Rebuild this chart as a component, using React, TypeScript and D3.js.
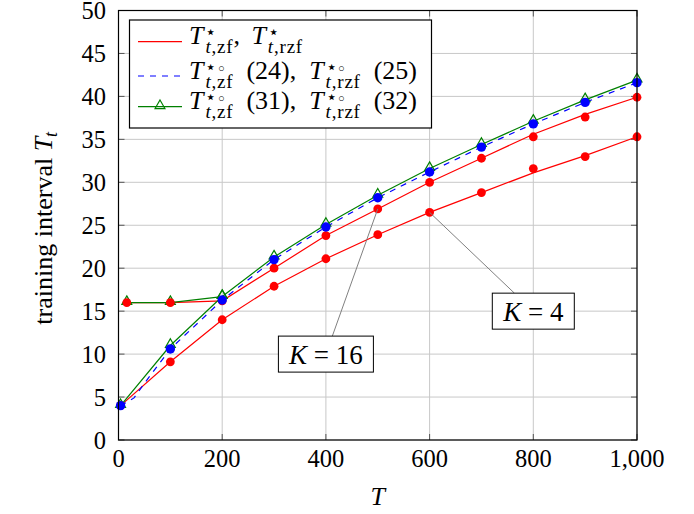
import React, { useEffect, useRef } from "react";
import * as d3 from "d3";

// simulated points
const tSim4 = [4, 100, 200, 300, 400, 500, 600, 700, 800, 900, 1000];
const tSim16 = [16, 100, 200, 300, 400, 500, 600, 700, 800, 900, 1000];
const redDots4 = [4, 9.1, 14.0, 17.9, 21.1, 23.9, 26.5, 28.8, 31.6, 33.0, 35.3];
const redDots16 = [16, 16, 16.2, 20.0, 23.8, 26.9, 30.0, 32.8, 35.3, 37.6, 39.9];
const blueDots = [4, 10.6, 16.3, 21.0, 24.8, 28.2, 31.2, 34.1, 36.8, 39.3, 41.6];

// curves
const redLine4 = [4, 9.1, 14.0, 17.9, 21.1, 23.9, 26.5, 28.8, 31.1, 33.1, 35.3];
const redLine16 = [16, 16, 16.2, 20.0, 23.8, 26.9, 30.0, 32.8, 35.6, 37.9, 39.9];
const tBlue = [4, 30, 50, 100, 200, 300, 400, 500, 600, 700, 800, 900, 1000];
const blueLine = [4, 4.9, 6.6, 10.6, 16.3, 21.0, 24.8, 28.2, 31.2, 34.1, 36.8, 39.3, 41.6];
const greenLine4 = [4, 11.0, 16.7, 21.3, 25.1, 28.5, 31.6, 34.4, 37.1, 39.6, 41.9];
const tGreen16 = [16, 100, 200];
const greenLine16 = [16, 16, 16.7];

const xTicks = [0, 200, 400, 600, 800, 1000];
const yTicks = [0, 5, 10, 15, 20, 25, 30, 35, 40, 45, 50];

const annotations = [
  { label: "16", at: [500, 26.9], box: [400, 10] },
  { label: "4", at: [600, 26.5], box: [800, 15] },
];

// legend labels, split into math pieces; gap = flexible space before piece
const legendRows = [
  [
    { s: "T", it: true }, { sup: "\u22c6", circ: false, sub: "t,zf" }, { s: "," },
    { s: "T", it: true, gap: true }, { sup: "\u22c6", circ: false, sub: "t,rzf" },
  ],
  [
    { s: "T", it: true }, { sup: "\u22c6", circ: true, sub: "t,zf" }, { s: "(24),", gap: true },
    { s: "T", it: true, gap: true }, { sup: "\u22c6", circ: true, sub: "t,rzf" }, { s: "(25)", gap: true },
  ],
  [
    { s: "T", it: true }, { sup: "\u22c6", circ: true, sub: "t,zf" }, { s: "(31),", gap: true },
    { s: "T", it: true, gap: true }, { sup: "\u22c6", circ: true, sub: "t,rzf" }, { s: "(32)", gap: true },
  ],
];
const legendEnds = [303, 417, 417];

const FONT = "Liberation Serif";
const RED = "#ff0000";
const BLUE = "#0000ff";
const GREEN = "#008000";

const W = 694;
const H = 514;
const margin = { top: 10.5, right: 57, bottom: 74, left: 118.5 };

const App = () => {
  const ref = useRef<SVGSVGElement>(null);

  useEffect(() => {
    document.body.style.margin = "0";
    const svg = d3.select(ref.current);
    svg.selectAll("*").remove();

    const x = d3.scaleLinear().domain([0, 1000]).range([margin.left, W - margin.right]);
    const y = d3.scaleLinear().domain([0, 50]).range([H - margin.bottom, margin.top]);
    const x0 = x(0), x1 = x(1000), y0 = y(0), y1 = y(50);

    // grid
    const grid = svg.append("g").attr("stroke", "#c8c8c8").attr("stroke-width", 1);
    xTicks.forEach((t) =>
      grid.append("line").attr("x1", x(t)).attr("x2", x(t)).attr("y1", y0).attr("y2", y1)
    );
    yTicks.forEach((t) =>
      grid.append("line").attr("x1", x0).attr("x2", x1).attr("y1", y(t)).attr("y2", y(t))
    );

    // tick marks inside, all four sides
    const tk = svg.append("g").attr("stroke", "#555").attr("stroke-width", 1);
    const tl = 6;
    xTicks.forEach((t) => {
      tk.append("line").attr("x1", x(t)).attr("x2", x(t)).attr("y1", y0).attr("y2", y0 - tl);
      tk.append("line").attr("x1", x(t)).attr("x2", x(t)).attr("y1", y1).attr("y2", y1 + tl);
    });
    yTicks.forEach((t) => {
      tk.append("line").attr("x1", x0).attr("x2", x0 + tl).attr("y1", y(t)).attr("y2", y(t));
      tk.append("line").attr("x1", x1).attr("x2", x1 - tl).attr("y1", y(t)).attr("y2", y(t));
    });

    // tick labels
    const fmt = d3.format(",");
    svg
      .append("g")
      .selectAll("text")
      .data(xTicks)
      .enter()
      .append("text")
      .attr("x", (d) => x(d))
      .attr("y", y0 + 27)
      .attr("text-anchor", "middle")
      .style("font-family", FONT)
      .attr("font-size", 24.5)
      .text((d) => fmt(d));
    svg
      .append("g")
      .selectAll("text")
      .data(yTicks)
      .enter()
      .append("text")
      .attr("x", x0 - 12.5)
      .attr("y", (d) => y(d) + 8.5)
      .attr("text-anchor", "end")
      .style("font-family", FONT)
      .attr("font-size", 24.5)
      .text((d) => d);

    // axis labels
    svg
      .append("text")
      .attr("x", (x0 + x1) / 2)
      .attr("y", H - 9)
      .attr("text-anchor", "middle")
      .style("font-family", FONT)
      .attr("font-size", 26)
      .attr("font-style", "italic")
      .text("T");
    const yl = svg
      .append("text")
      .attr("transform", `translate(52,${(y0 + y1) / 2 + 3}) rotate(-90)`)
      .attr("text-anchor", "middle")
      .style("font-family", FONT)
      .attr("font-size", 26);
    yl.append("tspan").text("training interval ");
    yl.append("tspan").attr("font-style", "italic").text("T");
    yl.append("tspan").attr("font-style", "italic").attr("font-size", 18).attr("dy", 5).text("t");

    const plot = svg.append("g");
    const line = d3
      .line<[number, number]>()
      .x((d) => x(d[0]))
      .y((d) => y(d[1]));
    const pts = (xs: number[], ys: number[]) => xs.map((v, i) => [v, ys[i]] as [number, number]);

    // red curves
    [pts(tSim4, redLine4), pts(tSim16, redLine16)].forEach((p) =>
      plot.append("path").attr("d", line(p)).attr("fill", "none").attr("stroke", RED).attr("stroke-width", 1.2)
    );
    // blue dashed
    plot
      .append("path")
      .attr("d", line(pts(tBlue, blueLine)))
      .attr("fill", "none")
      .attr("stroke", BLUE)
      .attr("stroke-width", 1.2)
      .attr("stroke-dasharray", "6,6");
    // green with triangles
    const tri = d3.symbol().type(d3.symbolTriangle).size(42);
    [pts(tSim4, greenLine4), pts(tGreen16, greenLine16)].forEach((p) => {
      plot.append("path").attr("d", line(p)).attr("fill", "none").attr("stroke", GREEN).attr("stroke-width", 1.2);
      p.forEach((d) =>
        plot
          .append("path")
          .attr("d", tri())
          .attr("transform", `translate(${x(d[0])},${y(d[1]) - 1})`)
          .attr("fill", "none")
          .attr("stroke", GREEN)
          .attr("stroke-width", 1.2)
      );
    });
    // dots
    [...pts(tSim4, redDots4), ...pts(tSim16, redDots16)].forEach((d) =>
      plot.append("circle").attr("cx", x(d[0])).attr("cy", y(d[1])).attr("r", 4.4).attr("fill", RED)
    );
    pts(tSim4, blueDots).forEach((d) =>
      plot.append("circle").attr("cx", x(d[0])).attr("cy", y(d[1])).attr("r", 4.7).attr("fill", BLUE)
    );

    // frame
    svg
      .append("rect")
      .attr("x", x0)
      .attr("y", y1)
      .attr("width", x1 - x0)
      .attr("height", y0 - y1)
      .attr("fill", "none")
      .attr("stroke", "#000")
      .attr("stroke-width", 1.2);

    // annotations
    annotations.forEach((a) => {
      const bw = a.label.length > 1 ? 95 : 82;
      const bh = 36;
      const cx = x(a.box[0]);
      const cy = y(a.box[1]);
      const px = x(a.at[0]);
      const py = y(a.at[1]);
      const top = cy - bh / 2;
      const tt = (top - py) / (cy - py);
      svg
        .append("line")
        .attr("x1", px)
        .attr("y1", py)
        .attr("x2", px + (cx - px) * tt)
        .attr("y2", top)
        .attr("stroke", "#808080")
        .attr("stroke-width", 1);
      svg
        .append("rect")
        .attr("x", cx - bw / 2)
        .attr("y", top)
        .attr("width", bw)
        .attr("height", bh)
        .attr("fill", "#fff")
        .attr("stroke", "#000")
        .attr("stroke-width", 1);
      const t = svg
        .append("text")
        .attr("x", cx)
        .attr("y", cy + 9.5)
        .attr("text-anchor", "middle")
        .style("font-family", FONT)
        .attr("font-size", 27);
      t.append("tspan").attr("font-style", "italic").text("K");
      t.append("tspan").text(" = " + a.label);
    });

    // legend
    const lg = svg.append("g");
    lg.append("rect")
      .attr("x", 129.5)
      .attr("y", 20)
      .attr("width", 302)
      .attr("height", 108)
      .attr("fill", "#fff")
      .attr("stroke", "#000")
      .attr("stroke-width", 1.2);
    const rows = [41.7, 76, 106.7];
    lg.append("line").attr("x1", 138).attr("x2", 182).attr("y1", rows[0]).attr("y2", rows[0]).attr("stroke", RED).attr("stroke-width", 1.2);
    lg.append("line").attr("x1", 138).attr("x2", 182).attr("y1", rows[1]).attr("y2", rows[1]).attr("stroke", BLUE).attr("stroke-width", 1.2).attr("stroke-dasharray", "6,6");
    lg.append("line").attr("x1", 138).attr("x2", 182).attr("y1", rows[2]).attr("y2", rows[2]).attr("stroke", GREEN).attr("stroke-width", 1.2);
    lg.append("path").attr("d", tri()).attr("transform", `translate(160,${rows[2] - 1})`).attr("fill", "none").attr("stroke", GREEN).attr("stroke-width", 1.2);

    legendRows.forEach((items, r) => {
      const by = rows[r] + 2.5;
      // build pieces first, then lay them out so the row ends where the reference does
      const pieces = items.map((it: any) => {
        if (it.s !== undefined) {
          const t = lg
            .append("text")
            .attr("y", by)
            .style("font-family", FONT)
            .attr("font-size", 26)
            .attr("font-style", it.it ? "italic" : "normal")
            .text(it.s);
          const w = (t.node() as SVGTextElement).getComputedTextLength() + (it.it ? 2 : 0);
          return { els: [t], w, gap: !!it.gap };
        }
        const sup = lg
          .append("text")
          .attr("y", by - 6)
          .style("font-family", FONT)
          .attr("font-size", 18)
          .text(it.sup);
        if (it.circ) sup.append("tspan").attr("font-size", 11).attr("dx", 1.5).attr("dy", -1).text("\u25cb");
        const sub = lg
          .append("text")
          .attr("y", by + 9)
          .style("font-family", FONT)
          .attr("font-size", 19)
          .attr("letter-spacing", 0.8);
        sub.append("tspan").attr("font-style", "italic").text(it.sub[0]);
        sub.append("tspan").text(it.sub.slice(1));
        const w = Math.max(
          (sup.node() as SVGTextElement).getComputedTextLength(),
          (sub.node() as SVGTextElement).getComputedTextLength()
        );
        return { els: [sup, sub], w, gap: false };
      });
      const natural = d3.sum(pieces, (p) => p.w);
      const nGaps = pieces.filter((p) => p.gap).length;
      const gap = Math.max(5, (legendEnds[r] - 189 - natural) / Math.max(1, nGaps));
      let cx = 189;
      pieces.forEach((p) => {
        if (p.gap) cx += gap;
        p.els.forEach((e: any) => e.attr("x", cx));
        cx += p.w;
      });
    });
  }, []);

  return <svg ref={ref} width={W} height={H} style={{ display: "block", background: "#fff" }} />;
};

export default App;
